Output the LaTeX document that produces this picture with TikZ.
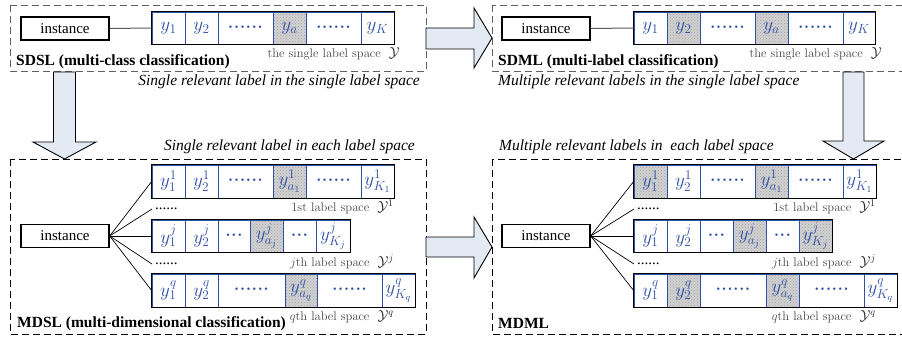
\RequirePackage{fix-cm}
\documentclass[tikz,border=0pt]{standalone}
\usepackage[no-math]{fontspec}
\setmainfont{Liberation Serif}
\newcommand\lmfont{\fontencoding{OT1}\fontfamily{cmr}\selectfont}
\usetikzlibrary{patterns}
\definecolor{cellblue}{HTML}{2E4FA6}
\definecolor{arrowfill}{HTML}{E3EAF4}
\definecolor{labgray}{HTML}{454545}
\definecolor{boxgray}{HTML}{606060}
\newcommand\bdot{\textbullet}
\newcommand\sixdots{{\fontsize{10}{10}\selectfont\bdot\hspace{2.4pt}\bdot\hspace{2.4pt}\bdot\hspace{2.4pt}\bdot\hspace{2.4pt}\bdot\hspace{2.4pt}\bdot}}
\newcommand\threedots{{\fontsize{10}{10}\selectfont\bdot\hspace{2.4pt}\bdot\hspace{2.4pt}\bdot}}
\newcommand\spc[1]{\hspace{8pt}{\color{black!85}\fontsize{14.5}{14.5}\selectfont$\mathcal{Y}#1$}}
\tikzset{
 cell/.style={draw=cellblue, line width=0.7pt, inner sep=0pt, text=cellblue, font=\fontsize{19}{19}\selectfont},
 pl/.style={},
 shd/.style={preaction={fill=gray!35}, pattern=crosshatch dots, pattern color=gray!75},
 rowborder/.style={draw=black, line width=1.6pt},
 inst/.style={draw, line width=1.4pt, minimum width=88pt, minimum height=23pt, inner sep=0pt, font=\fontsize{15}{15}\selectfont},
 ttl/.style={inner sep=0pt, font=\fontsize{15.5}{15.5}\selectfont\bfseries},
 capt/.style={inner sep=0pt, font=\fontsize{15.5}{15.5}\selectfont\itshape},
 lab/.style={inner sep=0pt, anchor=east, text=labgray, font=\fontsize{12.5}{12.5}\selectfont\lmfont},
 topbox/.style={draw=boxgray, line width=0.9pt, dash pattern=on 7pt off 4pt},
 botbox/.style={draw=black, line width=0.9pt, dash pattern=on 7pt off 4pt},
 bigarrow/.style={draw=black, line width=0.9pt, fill=arrowfill},
 conn/.style={draw=black, line width=0.7pt},
 tconn/.style={draw=gray!70!black, line width=1pt},
 ddots/.style={anchor=west, inner xsep=3pt, inner ysep=0pt, font=\fontsize{15}{15}\selectfont},
}
\newcommand\lrow[5]{%
  \foreach \xa/\xb/\ct/\st [count=\ii] in {#4}{%
    \node[cell,\st,minimum width={(\xb-\xa)*1pt},minimum height={(#3-#2)*1pt}] (#1-\ii) at ({(\xa+\xb)/2},{(#2+#3)/2}) {\ct};
  }%
  \draw[rowborder] (#1-1.north west) rectangle (#1-#5.south east);
}
\begin{document}
\begin{tikzpicture}[x=1pt,y=-1pt]
\useasboundingbox (0,0) rectangle (902,337);
% dashed frames
\draw[topbox] (10,5) rectangle (426,71);
\draw[topbox] (492,5) rectangle (912,71);
\draw[botbox] (10,159) rectangle (426,334);
\draw[botbox] (492,159) rectangle (912,334);

% ---------- SDSL ----------
\node[inst] (i0) at (65,28.5) {instance};
\lrow{a}{12}{44}{152/185/{$y_1$}/pl,185/218/{$y_2$}/pl,218/273/{\sixdots}/pl,273/306/{$y_a$}/shd,306/361/{\sixdots}/pl,361/394/{$y_K$}/pl}{6}
\draw[tconn] (i0.east) -- (a-1.west);
\node[lab] (la) at (400,54) {the single label space\spc{}};
\node[ttl, anchor=west] (t1) at (16,62) {SDSL (multi-class classification)};
\node[capt, anchor=east] (c1) at (420,82) {Single relevant label in the single label space};

% ---------- SDML ----------
\node[inst] (i1) at (546,28.5) {instance};
\lrow{b}{12}{44}{634/667/{$y_1$}/pl,667/700/{$y_2$}/shd,700/755/{\sixdots}/pl,755/788/{$y_a$}/shd,788/843/{\sixdots}/pl,843/875/{$y_K$}/pl}{6}
\draw[tconn] (i1.east) -- (b-1.west);
\node[lab] (lb) at (882,54) {the single label space\spc{}};
\node[ttl, anchor=west] (t2) at (498,62) {SDML (multi-label classification)};
\node[capt, anchor=west] (c2) at (498,82) {Multiple relevant labels in the single label space};

% ---------- MDSL ----------
\node[capt, anchor=east] (c3) at (415,147) {Single relevant label in each label space};
\node[inst] (i2) at (65,236) {instance};
\lrow{c1r}{165}{198}{152/185/{$y_1^1$}/pl,185/218/{$y_2^1$}/pl,218/273/{\sixdots}/pl,273/306/{$y_{a_1}^1$}/shd,306/361/{\sixdots}/pl,361/394/{$y_{K_1}^1$}/pl}{6}
\lrow{cjr}{220}{252}{152/185/{$y_1^j$}/pl,185/218/{$y_2^j$}/pl,218/250/{\threedots}/pl,250/283/{$y_{a_j}^j$}/shd,283/316/{\threedots}/pl,316/350/{$y_{K_j}^j$}/pl}{6}
\lrow{cqr}{274}{307}{152/185/{$y_1^q$}/pl,185/218/{$y_2^q$}/pl,218/285/{\sixdots}/pl,285/317/{$y_{a_q}^q$}/shd,317/382/{\sixdots}/pl,382/415/{$y_{K_q}^q$}/pl}{6}
\node[ddots] (cd1) at (152,209) {......};
\node[ddots] (cd2) at (152,264) {......};
\draw[conn] (i2.east) -- (c1r-1.west);
\draw[conn] (i2.east) -- (cd1.west);
\draw[conn] (i2.east) -- (cjr-1.west);
\draw[conn] (i2.east) -- (cd2.west);
\draw[conn] (i2.east) -- (cqr-1.west);
\node[lab] (lc1) at (394,207) {1st label space\spc{^1}};
\node[lab] (lc2) at (394,262) {$j$th label space\spc{^j}};
\node[lab] (lc3) at (394,317) {$q$th label space\spc{^q}};
\node[ttl, anchor=west] (t3) at (17,324) {MDSL (multi-dimensional classification)};

% ---------- MDML ----------
\node[capt, anchor=west] (c4) at (499,147) {Multiple relevant labels in\ \ each label space};
\node[inst] (i3) at (546,236) {instance};
\lrow{d1r}{165}{198}{634/667/{$y_1^1$}/shd,667/700/{$y_2^1$}/pl,700/755/{\sixdots}/pl,755/788/{$y_{a_1}^1$}/shd,788/843/{\sixdots}/pl,843/876/{$y_{K_1}^1$}/pl}{6}
\lrow{djr}{220}{252}{634/667/{$y_1^j$}/pl,667/700/{$y_2^j$}/pl,700/733/{\threedots}/pl,733/766/{$y_{a_j}^j$}/shd,766/799/{\threedots}/pl,799/832/{$y_{K_j}^j$}/shd}{6}
\lrow{dqr}{274}{307}{634/667/{$y_1^q$}/pl,667/700/{$y_2^q$}/shd,700/766/{\sixdots}/pl,766/799/{$y_{a_q}^q$}/shd,799/864/{\sixdots}/pl,864/897/{$y_{K_q}^q$}/pl}{6}
\node[ddots] (dd1) at (634,209) {......};
\node[ddots] (dd2) at (634,264) {......};
\draw[conn] (i3.east) -- (d1r-1.west);
\draw[conn] (i3.east) -- (dd1.west);
\draw[conn] (i3.east) -- (djr-1.west);
\draw[conn] (i3.east) -- (dd2.west);
\draw[conn] (i3.east) -- (dqr-1.west);
\node[lab] (ld1) at (876,207) {1st label space\spc{^1}};
\node[lab] (ld2) at (876,262) {$j$th label space\spc{^j}};
\node[lab] (ld3) at (876,317) {$q$th label space\spc{^q}};
\node[ttl, anchor=west] (t4) at (498,323) {MDML};

% ---------- block arrows ----------
\draw[bigarrow] (426,28) -- (474,28) -- (474,8) -- (492,38) -- (474,68) -- (474,49) -- (426,49) -- cycle;
\draw[bigarrow] (426,237) -- (474,237) -- (474,217) -- (492,247) -- (474,278) -- (474,257) -- (426,257) -- cycle;
\draw[bigarrow] (53.5,72) -- (75.5,72) -- (75.5,142) -- (96,142) -- (64.5,159) -- (33,142) -- (53.5,142) -- cycle;
\draw[bigarrow] (843,72) -- (864,72) -- (864,141) -- (884,141) -- (853.5,159) -- (823,141) -- (843,141) -- cycle;
\end{tikzpicture}
\end{document}
